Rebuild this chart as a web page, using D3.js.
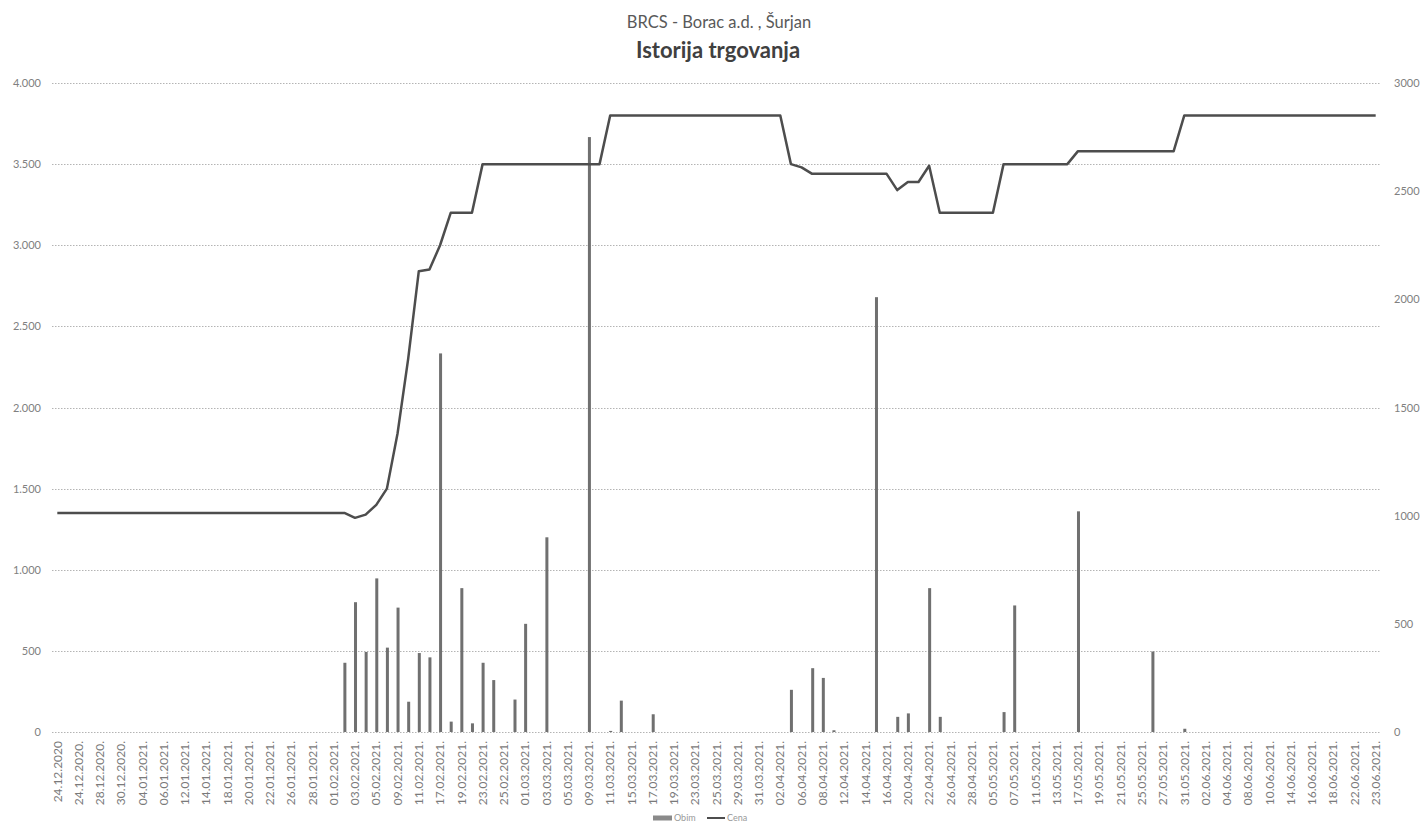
<!DOCTYPE html>
<html lang="sr">
<head>
    <meta charset="utf-8" />
    <title>BRCS - Istorija trgovanja</title>
    <script src="https://cdn.jsdelivr.net/npm/d3@7"></script>
    <style type="text/css">
        body { margin: 0; background: #fff; }
        text { font-family: Lato, "Open Sans", sans-serif; }
        .grid line { stroke: #b4b4b4; stroke-dasharray: 1.5,1.5; }
        .tick-label { fill: #808080; font-size: 11px; }
        .date-label { fill: #7a7a7a; font-size: 12px; }
    </style>
</head>
<body>
    <svg id="canvas" width="1423" height="831" xmlns="http://www.w3.org/2000/svg"></svg>
    <script type="text/javascript">
        // kategorije (dani trgovanja); natpis se prikazuje za svaki drugi
        var dates = [
            "24.12.2020", "24.12.2020.", "24.12.2020.", "25.12.2020.", "28.12.2020.", "29.12.2020.",
            "30.12.2020.", "31.12.2020.", "04.01.2021.", "05.01.2021.", "06.01.2021.", "11.01.2021.",
            "12.01.2021.", "13.01.2021.", "14.01.2021.", "15.01.2021.", "18.01.2021.", "19.01.2021.",
            "20.01.2021.", "21.01.2021.", "22.01.2021.", "25.01.2021.", "26.01.2021.", "27.01.2021.",
            "28.01.2021.", "29.01.2021.", "01.02.2021.", "02.02.2021.", "03.02.2021.", "04.02.2021.",
            "05.02.2021.", "08.02.2021.", "09.02.2021.", "10.02.2021.", "11.02.2021.", "12.02.2021.",
            "17.02.2021.", "18.02.2021.", "19.02.2021.", "22.02.2021.", "23.02.2021.", "24.02.2021.",
            "25.02.2021.", "26.02.2021.", "01.03.2021.", "02.03.2021.", "03.03.2021.", "04.03.2021.",
            "05.03.2021.", "08.03.2021.", "09.03.2021.", "10.03.2021.", "11.03.2021.", "12.03.2021.",
            "15.03.2021.", "16.03.2021.", "17.03.2021.", "18.03.2021.", "19.03.2021.", "22.03.2021.",
            "23.03.2021.", "24.03.2021.", "25.03.2021.", "26.03.2021.", "29.03.2021.", "30.03.2021.",
            "31.03.2021.", "01.04.2021.", "02.04.2021.", "05.04.2021.", "06.04.2021.", "07.04.2021.",
            "08.04.2021.", "09.04.2021.", "12.04.2021.", "13.04.2021.", "14.04.2021.", "15.04.2021.",
            "16.04.2021.", "19.04.2021.", "20.04.2021.", "21.04.2021.", "22.04.2021.", "23.04.2021.",
            "26.04.2021.", "27.04.2021.", "28.04.2021.", "29.04.2021.", "05.05.2021.", "06.05.2021.",
            "07.05.2021.", "10.05.2021.", "11.05.2021.", "12.05.2021.", "13.05.2021.", "14.05.2021.",
            "17.05.2021.", "18.05.2021.", "19.05.2021.", "20.05.2021.", "21.05.2021.", "24.05.2021.",
            "25.05.2021.", "26.05.2021.", "27.05.2021.", "28.05.2021.", "31.05.2021.", "01.06.2021.",
            "02.06.2021.", "03.06.2021.", "04.06.2021.", "07.06.2021.", "08.06.2021.", "09.06.2021.",
            "10.06.2021.", "11.06.2021.", "14.06.2021.", "15.06.2021.", "16.06.2021.", "17.06.2021.",
            "18.06.2021.", "21.06.2021.", "22.06.2021.", "22.06.2021.", "23.06.2021."
        ];

        // Cena (leva osa)
        var cena = [
            1350, 1350, 1350, 1350, 1350, 1350, 1350, 1350, 1350, 1350, 1350, 1350,
            1350, 1350, 1350, 1350, 1350, 1350, 1350, 1350, 1350, 1350, 1350, 1350,
            1350, 1350, 1350, 1350, 1320, 1340, 1400, 1500, 1840, 2300, 2840, 2850,
            3000, 3200, 3200, 3200, 3500, 3500, 3500, 3500, 3500, 3500, 3500, 3500,
            3500, 3500, 3500, 3500, 3800, 3800, 3800, 3800, 3800, 3800, 3800, 3800,
            3800, 3800, 3800, 3800, 3800, 3800, 3800, 3800, 3800, 3500, 3480, 3440,
            3440, 3440, 3440, 3440, 3440, 3440, 3440, 3340, 3390, 3390, 3490, 3200,
            3200, 3200, 3200, 3200, 3200, 3500, 3500, 3500, 3500, 3500, 3500, 3500,
            3580, 3580, 3580, 3580, 3580, 3580, 3580, 3580, 3580, 3580, 3800, 3800,
            3800, 3800, 3800, 3800, 3800, 3800, 3800, 3800, 3800, 3800, 3800, 3800,
            3800, 3800, 3800, 3800, 3800
        ];

        // Obim (desna osa)
        var obim = [
            0, 0, 0, 0, 0, 0, 0, 0, 0, 0, 0, 0,
            0, 0, 0, 0, 0, 0, 0, 0, 0, 0, 0, 0,
            0, 0, 0, 320, 600, 370, 710, 390, 575, 140, 365, 345,
            1750, 48, 665, 40, 320, 240, 0, 150, 500, 0, 900, 0,
            0, 0, 2750, 0, 5, 145, 0, 0, 82, 0, 0, 0,
            0, 0, 0, 0, 0, 0, 0, 0, 0, 195, 0, 295,
            250, 8, 0, 0, 0, 2010, 0, 70, 86, 0, 665, 70,
            0, 0, 0, 0, 0, 92, 585, 0, 0, 0, 0, 0,
            1020, 0, 0, 0, 0, 0, 0, 372, 0, 0, 15, 0,
            0, 0, 0, 0, 0, 0, 0, 0, 0, 0, 0, 0,
            0, 0, 0, 0, 0
        ];

        var leftTicks = [0, 500, 1000, 1500, 2000, 2500, 3000, 3500, 4000];
        var rightTicks = [0, 500, 1000, 1500, 2000, 2500, 3000];

        var svg = d3.select("#canvas");
        var plot = { left: 52, right: 1381, top: 83, bottom: 732 };

        var x = d3.scaleBand()
            .domain(d3.range(dates.length))
            .range([plot.left, plot.right]);
        var yLeft = d3.scaleLinear().domain([0, 4000]).range([plot.bottom, plot.top]);
        var yRight = d3.scaleLinear().domain([0, 3000]).range([plot.bottom, plot.top]);
        var cx = function (i) { return x(i) + x.bandwidth() / 2; };

        // naslov
        svg.append("text")
            .attr("x", 719).attr("y", 28)
            .attr("text-anchor", "middle")
            .attr("font-size", 16.5).attr("fill", "#595959")
            .text("BRCS - Borac a.d. , Šurjan");
        svg.append("text")
            .attr("x", 718).attr("y", 58)
            .attr("text-anchor", "middle")
            .attr("font-size", 22).attr("font-weight", "bold").attr("fill", "#404040")
            .text("Istorija trgovanja");

        // mreža
        svg.append("g").attr("class", "grid")
            .selectAll("line").data(leftTicks)
            .enter().append("line")
            .attr("x1", plot.left).attr("x2", plot.right)
            .attr("y1", function (d) { return Math.round(yLeft(d)) + 0.5; })
            .attr("y2", function (d) { return Math.round(yLeft(d)) + 0.5; });

        // leva osa
        var axisL = svg.append("g")
            .attr("transform", "translate(" + (plot.left - 11) + ",0)")
            .call(d3.axisLeft(yLeft).tickValues(leftTicks).tickSize(0)
                .tickFormat(function (d) { return d3.format(",")(d).replace(/,/g, "."); }));
        axisL.select(".domain").remove();
        axisL.selectAll("text").attr("class", "tick-label").attr("x", 0);

        // desna osa
        var axisR = svg.append("g")
            .attr("transform", "translate(" + (plot.right + 13) + ",0)")
            .call(d3.axisRight(yRight).tickValues(rightTicks).tickSize(0).tickFormat(d3.format("d")));
        axisR.select(".domain").remove();
        axisR.selectAll("text").attr("class", "tick-label").attr("x", 0);

        // x osa, natpis za svaki drugi dan
        var axisX = svg.append("g")
            .attr("transform", "translate(0," + (plot.bottom + 9) + ")")
            .call(d3.axisBottom(x)
                .tickValues(d3.range(0, dates.length, 2))
                .tickSize(0)
                .tickFormat(function (i) { return dates[i]; }));
        axisX.select(".domain").remove();
        axisX.selectAll("text")
            .attr("class", "date-label")
            .attr("transform", "rotate(-90)")
            .attr("text-anchor", "end")
            .attr("x", 0).attr("y", 0).attr("dy", "0.35em");

        // Obim - stubići
        var barW = 3;
        svg.append("g").selectAll("rect")
            .data(obim.map(function (v, i) { return { i: i, v: v }; }).filter(function (d) { return d.v > 0; }))
            .enter().append("rect")
            .attr("x", function (d) { return cx(d.i) - barW / 2 + 0.5; })
            .attr("width", barW)
            .attr("y", function (d) { return yRight(d.v); })
            .attr("height", function (d) { return plot.bottom - yRight(d.v); })
            .attr("fill", "#707070");

        // Cena - linija
        var line = d3.line()
            .x(function (d, i) { return cx(i); })
            .y(function (d) { return yLeft(d); });
        svg.append("path")
            .datum(cena)
            .attr("d", line)
            .attr("fill", "none")
            .attr("stroke", "#4d4d4d")
            .attr("stroke-width", 2.5)
            .attr("stroke-linejoin", "round");

        // legenda
        var legend = svg.append("g").attr("transform", "translate(653,818)");
        legend.append("rect")
            .attr("x", 0).attr("y", -2.5).attr("width", 19).attr("height", 5)
            .attr("fill", "#8a8a8a");
        legend.append("text")
            .attr("x", 21).attr("y", 3).attr("font-size", 9).attr("fill", "#999")
            .text("Obim");
        legend.append("line")
            .attr("x1", 54).attr("x2", 72).attr("y1", 0).attr("y2", 0)
            .attr("stroke", "#4d4d4d").attr("stroke-width", 2);
        legend.append("text")
            .attr("x", 74).attr("y", 3).attr("font-size", 9).attr("fill", "#999")
            .text("Cena");
    </script>
</body>
</html>
